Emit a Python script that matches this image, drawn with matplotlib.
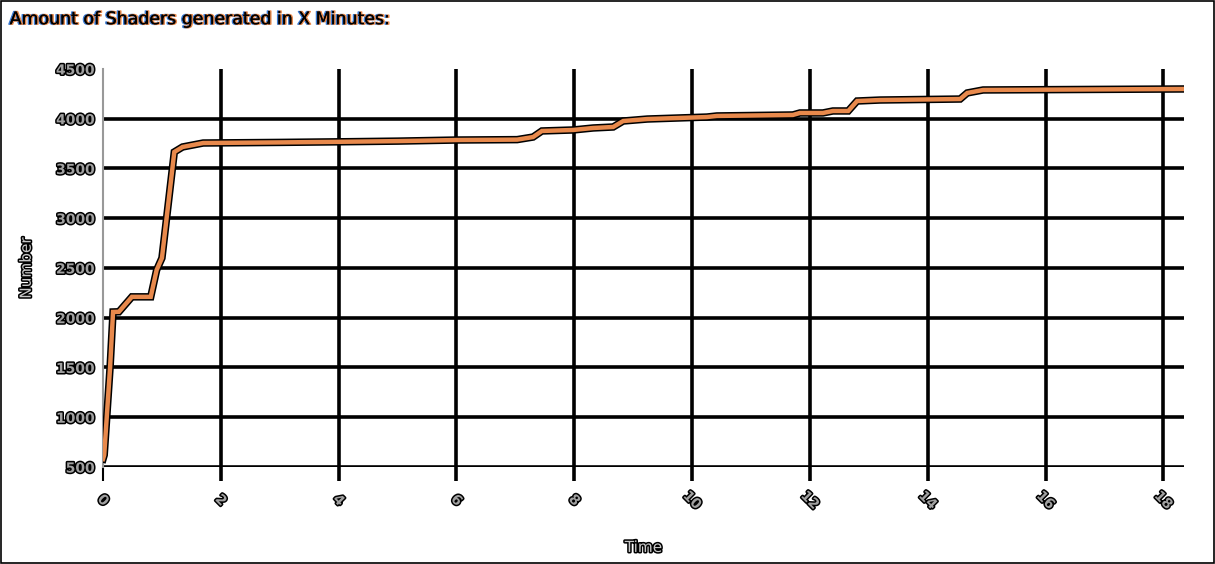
import matplotlib
matplotlib.use("Agg")
import matplotlib.pyplot as plt
import matplotlib.patheffects as pe

# minutes vs. number of shaders
minutes = [0.0, 0.02, 0.12, 0.17, 0.27, 0.49, 0.81, 0.91, 1.0, 1.21, 1.35, 1.70,
           3.0, 4.0, 5.0, 6.0, 7.03, 7.30, 7.45, 7.98, 8.32, 8.66, 8.83, 9.24,
           10.25, 10.42, 11.71, 11.83, 12.22, 12.39, 12.65, 12.80, 13.19, 14.55,
           14.67, 14.94, 18.34]
shaders = [580, 620, 1505, 2058, 2060, 2210, 2210, 2480, 2600, 3666, 3716, 3756,
           3762, 3768, 3775, 3786, 3790, 3816, 3877, 3887, 3907, 3917, 3977, 3997,
           4017, 4028, 4038, 4058, 4058, 4078, 4078, 4178, 4188, 4198,
           4259, 4289, 4299]
xticks = [0, 2, 4, 6, 8, 10, 12, 14, 16, 18]
yticks = [500, 1000, 1500, 2000, 2500, 3000, 3500, 4000, 4500]

outline = [pe.withStroke(linewidth=2.2, foreground="black")]

fig = plt.figure(figsize=(12.15, 5.64), dpi=100)
fig.patches.append(plt.Rectangle((0.0008, 0.0018), 0.9984, 0.9964, transform=fig.transFigure,
                                 fill=False, edgecolor="black", linewidth=1.2))
ax = fig.add_axes([0.0848, 0.172, 0.8897, 0.7057])

ax.plot(minutes, shaders, color="#e8894c", linewidth=3.2, solid_joinstyle="miter",
        path_effects=[pe.Stroke(linewidth=5.4, foreground="black"), pe.Normal()], zorder=5)

ax.set_xlim(0, 18.35)
ax.set_ylim(500, 4500)
ax.set_xticks(xticks)
ax.set_yticks(yticks)
ax.set_xticklabels([str(t) for t in xticks], rotation=-45, ha="center", va="center",
                   fontsize=10, fontweight="bold", color="#a0a0a0")
ax.set_yticklabels([str(t) for t in yticks], fontsize=10, fontweight="bold", color="#a0a0a0")
for lab in ax.get_xticklabels() + ax.get_yticklabels():
    lab.set_path_effects(outline)

ax.grid(True, color="black", linewidth=2.6)
ax.set_axisbelow(True)
ax.yaxis.get_gridlines()[-1].set_visible(False)
ax.xaxis.get_gridlines()[0].set_visible(False)
ax.tick_params(axis="x", length=10, width=2.6, color="black", pad=14)
ax.tick_params(axis="y", length=0, pad=6)
ax.xaxis.get_major_ticks()[0].tick1line.set_color("#999999")
ax.xaxis.get_major_ticks()[0].tick1line.set_markeredgewidth(1.5)

for s in ["top", "right", "bottom"]:
    ax.spines[s].set_visible(False)
ax.spines["left"].set_color("#999999")
ax.spines["left"].set_linewidth(1.5)

ax.set_xlabel("Time", fontsize=11, color="#c8c8c8", labelpad=20, path_effects=outline)
ax.set_ylabel("Number", fontsize=11, color="#c8c8c8", labelpad=16, path_effects=outline)

fig.text(0.008, 0.966, "Amount of Shaders generated in X Minutes:", fontsize=12.5,
         color="black", ha="left", va="center",
         path_effects=[pe.withStroke(linewidth=1.0, foreground="#3a7bd5", offset=(-0.7, 0)),
                       pe.withStroke(linewidth=1.0, foreground="#e8894c", offset=(0.7, 0)),
                       pe.Normal()])

fig.savefig("out.png", dpi=100)
